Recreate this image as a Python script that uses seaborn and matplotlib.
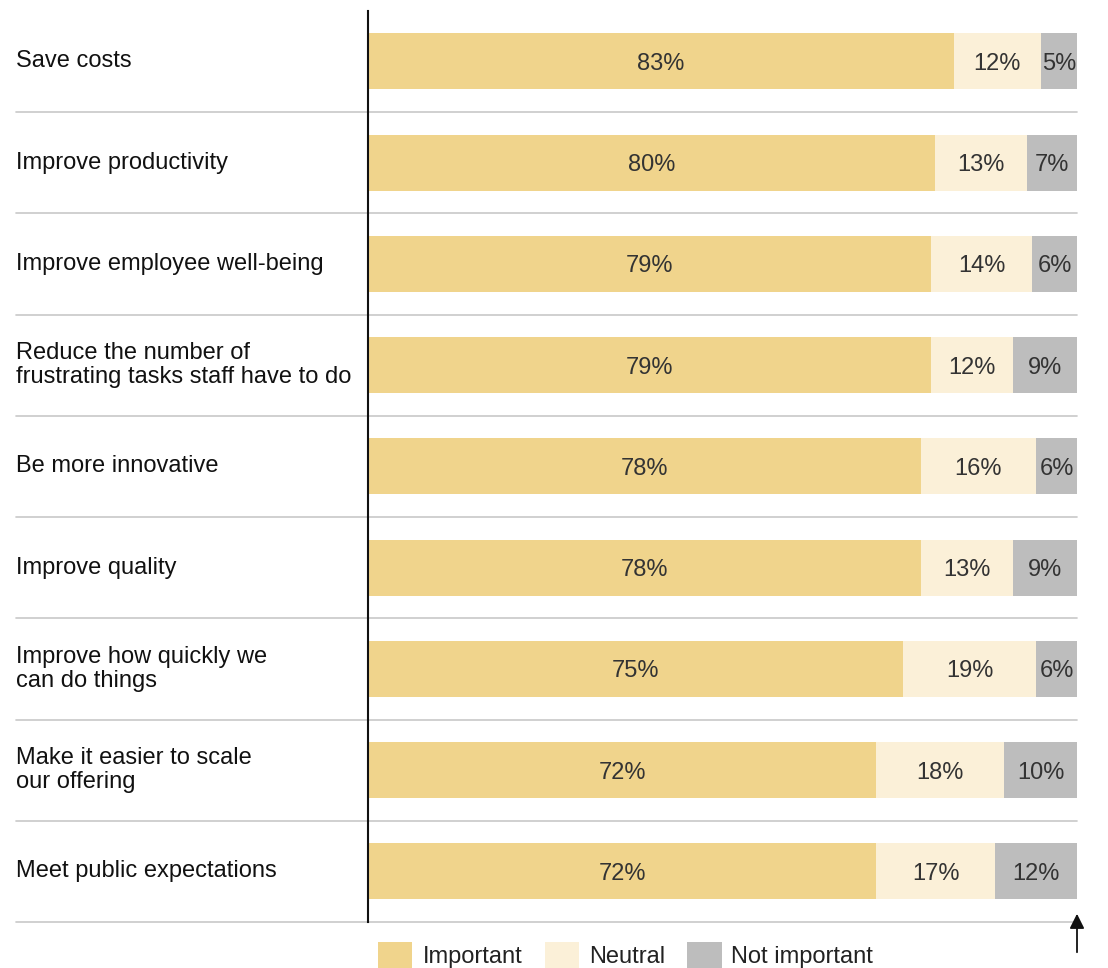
import numpy as np
import pandas as pd
import seaborn as sns
import matplotlib.pyplot as plt
from matplotlib.patches import Patch

# data
categories = [
    "Save costs",
    "Improve productivity",
    "Improve employee well-being",
    "Reduce the number of\nfrustrating tasks staff have to do",
    "Be more innovative",
    "Improve quality",
    "Improve how quickly we\ncan do things",
    "Make it easier to scale\nour offering",
    "Meet public expectations",
]
# labels as printed on the bars
important_lbl = [83, 80, 79, 79, 78, 78, 75, 72, 72]
neutral_lbl = [12, 13, 14, 12, 16, 13, 19, 18, 17]
not_important_lbl = [5, 7, 6, 9, 6, 9, 6, 10, 12]
# unrounded shares (each row sums to 100)
important = [82.6, 80.0, 79.4, 79.4, 78.0, 78.0, 75.5, 71.7, 71.7]
neutral = [12.3, 12.9, 14.3, 11.6, 16.2, 13.0, 18.7, 18.0, 16.7]
not_important = [5.1, 7.1, 6.3, 9.0, 5.8, 9.0, 5.8, 10.3, 11.6]

series_names = ["Important", "Neutral", "Not important"]
colors = ["#F0D48C", "#FBF0D8", "#BDBDBD"]

df = pd.DataFrame({"cat": categories, "imp": important, "neu": neutral, "not": not_important,
                   "imp_l": important_lbl, "neu_l": neutral_lbl, "not_l": not_important_lbl})
df["imp_neu"] = df["imp"] + df["neu"]
df["total"] = df["imp_neu"] + df["not"]

sns.set_theme(style="white")
plt.rcParams["font.family"] = ["Liberation Sans", "DejaVu Sans"]

W, H = 1108, 968
fig = plt.figure(figsize=(W / 100, H / 100), dpi=100)
ax = fig.add_axes([368 / W, 1 - 922 / H, (1077 - 368) / W, (922 - 10.75) / H])

bw = 0.553
# stacked bars drawn as layers (total, then imp+neu, then imp)
sns.barplot(data=df, x="total", y="cat", orient="h", color=colors[2], width=bw, ax=ax, saturation=1, linewidth=0)
sns.barplot(data=df, x="imp_neu", y="cat", orient="h", color=colors[1], width=bw, ax=ax, saturation=1, linewidth=0)
sns.barplot(data=df, x="imp", y="cat", orient="h", color=colors[0], width=bw, ax=ax, saturation=1, linewidth=0)

ax.set_xlim(0, 100)
ax.set_ylim(len(categories) - 0.5, -0.5)
ax.set_xlabel("")
ax.set_ylabel("")
ax.set_xticks([])
ax.set_yticks([])
for s in ["top", "right", "bottom"]:
    ax.spines[s].set_visible(False)
ax.spines["left"].set_color("#111111")
ax.spines["left"].set_linewidth(1.5)

fs = 17
txt = "#333333"
for i, row in df.iterrows():
    ax.text(row["imp"] / 2, i, f"{row['imp_l']}%", ha="center", va="center_baseline", fontsize=fs, color=txt)
    ax.text(row["imp"] + row["neu"] / 2, i, f"{row['neu_l']}%", ha="center", va="center_baseline", fontsize=fs, color=txt)
    ax.text(row["imp_neu"] + row["not"] / 2, i, f"{row['not_l']}%", ha="center", va="center_baseline", fontsize=fs, color=txt)
    # category label on the left
    ax.text(-(368 - 16) / 709, i, row["cat"], transform=ax.get_yaxis_transform(),
            ha="left", va="center", fontsize=fs, color="#111111", linespacing=1.12)
    # separator line below each row
    ax.plot([-(368 - 16) / 709, 1], [i + 0.5, i + 0.5], transform=ax.get_yaxis_transform(),
            color="#C8C8C8", lw=1.2, clip_on=False, zorder=0)

handles = [Patch(facecolor=c, edgecolor="none") for c in colors]
fig.legend(handles, series_names, loc="lower left", bbox_to_anchor=(357 / W, -0.022),
           ncol=3, frameon=False, fontsize=fs, handlelength=1.45, handleheight=1.3,
           handletextpad=0.42, columnspacing=0.95, labelcolor="#222222")

ax.annotate("", xy=(1077, 968 - 911), xytext=(1077, 968 - 955),
            xycoords="figure pixels", textcoords="figure pixels",
            arrowprops=dict(arrowstyle="-|>", color="#111111", lw=1.3, mutation_scale=22))

fig.savefig("out.png", dpi=100)
